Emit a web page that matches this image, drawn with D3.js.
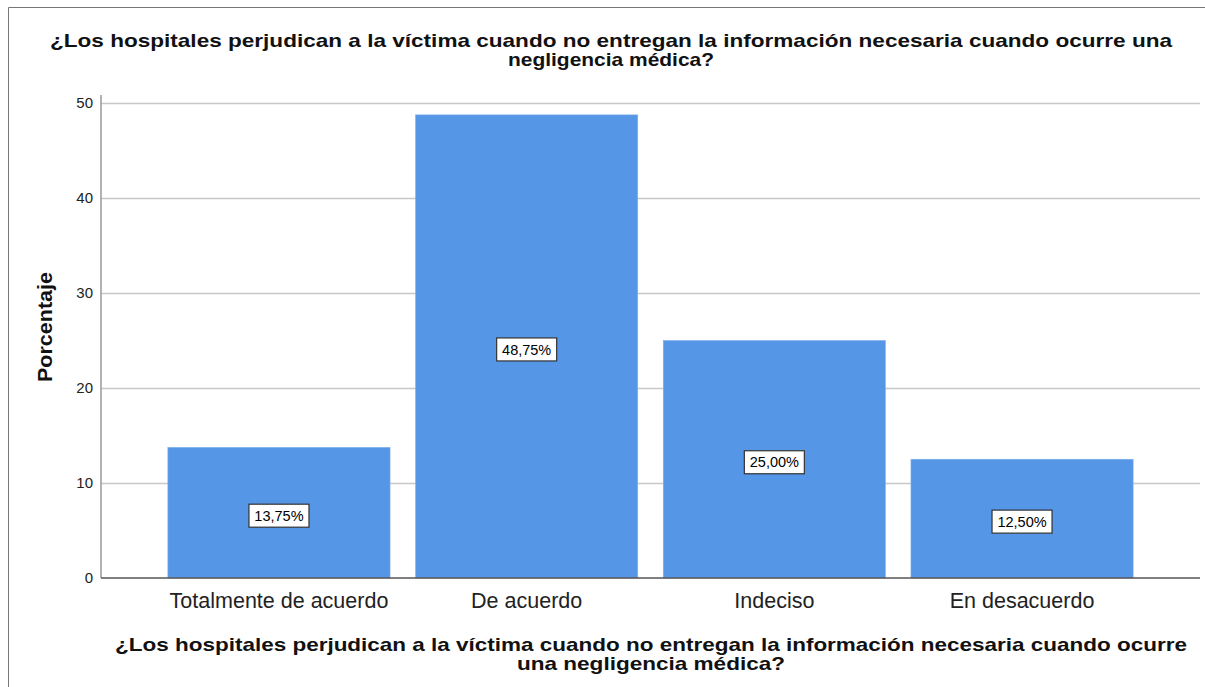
<!DOCTYPE html>
<html lang="es">
<head>
<meta charset="UTF-8">
<title>grafico</title>
<style>
  body { margin: 0; background: #fff; }
  text { font-family: Arial, "Liberation Sans", sans-serif; }
</style>
</head>
<body>
<script src="https://cdn.jsdelivr.net/npm/d3@7"></script>
<script>
const categories = ['Totalmente de acuerdo', 'De acuerdo', 'Indeciso', 'En desacuerdo'];
const percents = [13.75, 48.75, 25.00, 12.50];
const yTicks = [0, 10, 20, 30, 40, 50];
const titleLines = ['¿Los hospitales perjudican a la víctima cuando no entregan la información necesaria cuando ocurre una',
                    'negligencia médica?'];
const xTitleLines = ['¿Los hospitales perjudican a la víctima cuando no entregan la información necesaria cuando ocurre',
                     'una negligencia médica?'];

const width = 1205, height = 687;
const plotLeft = 101, plotRight = 1200, plotTop = 103, plotBottom = 578;
const font = 'Arial, "Liberation Sans", sans-serif';

let svg = d3.select('body').append('svg')
    .attr('width', width)
    .attr('height', height);

// outer frame (only left and top edges show)
svg.append('path')
    .attr('d', 'M8.5,687 V7.5 H1205')
    .attr('fill', 'none')
    .attr('stroke', '#777')
    .attr('stroke-width', 1);

let x = d3.scaleBand()
    .domain(categories)
    .range([plotLeft, plotRight])
    .paddingInner(0.103)
    .paddingOuter(0.27);

let y = d3.scaleLinear()
    .domain([0, 50])
    .range([plotBottom, plotTop]);

// grid
svg.append('g')
    .selectAll('line')
    .data(yTicks.filter(d => d > 0))
    .enter()
    .append('line')
    .attr('x1', plotLeft)
    .attr('x2', plotRight)
    .attr('y1', d => Math.round(y(d)) + 0.5)
    .attr('y2', d => Math.round(y(d)) + 0.5)
    .attr('stroke', '#c8c8c8')
    .attr('stroke-width', 1.5);

// bars
svg.append('g')
    .selectAll('rect')
    .data(percents)
    .enter()
    .append('rect')
    .attr('x', (d, i) => x(categories[i]))
    .attr('y', d => y(d))
    .attr('width', x.bandwidth())
    .attr('height', d => plotBottom - y(d))
    .attr('fill', '#5596e6')
    .attr('stroke', '#7fb0ee')
    .attr('stroke-width', 0.6);

// y axis
let yAxis = svg.append('g')
    .attr('transform', 'translate(' + plotLeft + ',0)')
    .call(d3.axisLeft(y).tickValues(yTicks).tickSize(0).tickPadding(8));
yAxis.select('.domain').attr('stroke', '#999').attr('stroke-width', 1.5)
    .attr('d', 'M0,' + (plotTop - 8) + 'V' + plotBottom);
yAxis.selectAll('text')
    .attr('font-size', 15)
    .attr('fill', '#222')
    .style('font-family', font);

// x axis
let xAxis = svg.append('g')
    .attr('transform', 'translate(0,' + plotBottom + ')')
    .call(d3.axisBottom(x).tickSize(0).tickPadding(0));
xAxis.select('.domain').attr('stroke', '#555').attr('stroke-width', 1.5)
    .attr('d', 'M' + plotLeft + ',0H' + plotRight);
xAxis.selectAll('text')
    .attr('dy', null)
    .attr('y', 30)
    .attr('font-size', 21.5)
    .attr('fill', '#222')
    .style('font-family', font);

// value labels
let labels = svg.append('g')
    .selectAll('g')
    .data(percents)
    .enter()
    .append('g')
    .attr('transform', (d, i) => 'translate(' + (x(categories[i]) + x.bandwidth() / 2) + ',' + (y(d / 2) + 3) + ')');

labels.append('rect')
    .attr('x', -30)
    .attr('y', -11.5)
    .attr('width', 60)
    .attr('height', 23)
    .attr('fill', '#fff')
    .attr('stroke', '#333')
    .attr('stroke-width', 1.2);

labels.append('text')
    .attr('text-anchor', 'middle')
    .attr('dy', '0.36em')
    .attr('font-size', 14.5)
    .attr('fill', '#000')
    .text(d => d.toFixed(2).replace('.', ',') + '%');

// two-line bold titles, each line stretched to the width seen in the picture
function boldLines(lines, cx, y0, widths) {
    svg.append('g')
        .selectAll('text')
        .data(lines)
        .enter()
        .append('text')
        .attr('x', cx)
        .attr('y', (d, i) => y0 + i * 18.5)
        .attr('text-anchor', 'middle')
        .attr('font-size', 19)
        .attr('font-weight', 'bold')
        .attr('fill', '#111')
        .attr('textLength', (d, i) => widths[i])
        .attr('lengthAdjust', 'spacingAndGlyphs')
        .text(d => d);
}

boldLines(titleLines, 611, 47, [1122, 206]);
boldLines(xTitleLines, 651, 651, [1072, 268]);

// y title
svg.append('text')
    .attr('transform', 'translate(52,327) rotate(-90)')
    .attr('text-anchor', 'middle')
    .attr('font-size', 20)
    .attr('font-weight', 'bold')
    .attr('fill', '#111')
    .attr('textLength', 110)
    .attr('lengthAdjust', 'spacingAndGlyphs')
    .text('Porcentaje');
</script>
</body>
</html>
